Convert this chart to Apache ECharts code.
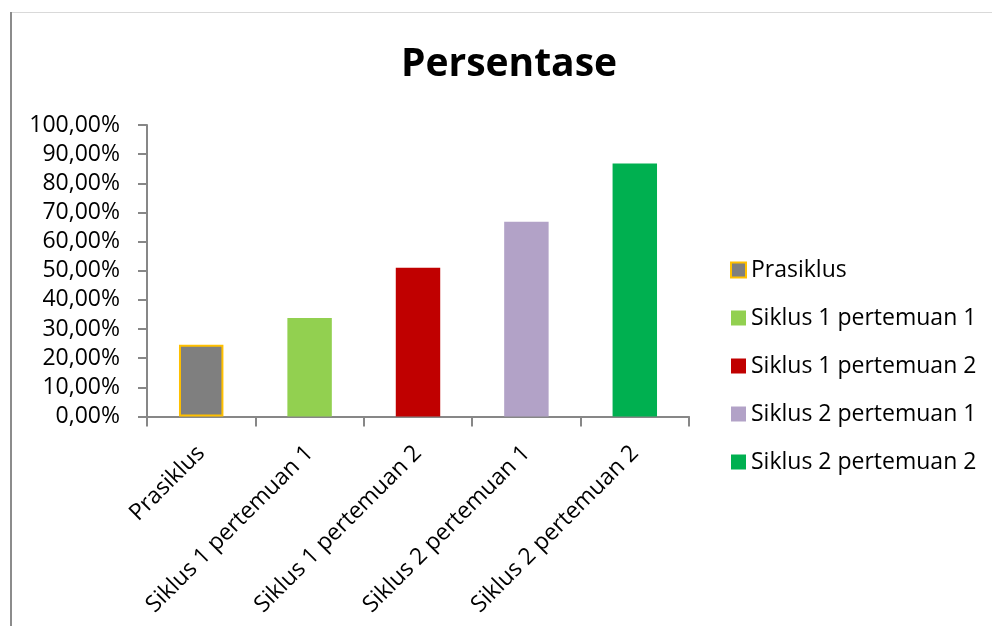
<!DOCTYPE html>
<html>
<head>
<meta charset="utf-8">
<title>Persentase</title>
<script src="https://cdn.jsdelivr.net/npm/echarts@6/dist/echarts.min.js"></script>
<style>
  html, body { margin: 0; padding: 0; background: #fff; }
  #chart { width: 992px; height: 626px; }
</style>
</head>
<body>
<div id="chart"></div>
<script>
// Categories and their percentages
const categories = [
  'Prasiklus',
  'Siklus 1 pertemuan 1',
  'Siklus 1 pertemuan 2',
  'Siklus 2 pertemuan 1',
  'Siklus 2 pertemuan 2'
];
const values = [24.6, 33.8, 51.0, 66.8, 86.8];
const yTicks = [0, 10, 20, 30, 40, 50, 60, 70, 80, 90, 100];

const fills = ['#7F7F7F', '#92D050', '#C00000', '#B2A2C7', '#00B050'];
const font = '"Open Sans", "Noto Sans", sans-serif';
const axisGray = '#878787';

function pct(v) {
  return v.toFixed(2).replace('.', ',') + '%';
}

// One series per category so each gets its own legend entry;
// barGap -100% stacks them onto the same slot.
const series = categories.map((name, i) => ({
  name: name,
  type: 'bar',
  barWidth: '41%',
  barGap: '-100%',
  data: categories.map((_, j) => (j === i ? values[i] : null)),
  itemStyle: i === 0
    ? { color: fills[i], borderColor: '#FFC000', borderWidth: 2 }
    : { color: fills[i] },
  emphasis: { disabled: true }
}));

const chart = echarts.init(document.getElementById('chart'), null, { renderer: 'canvas' });
chart.setOption({
  animation: false,
  backgroundColor: '#ffffff',
  title: {
    text: 'Persentase',
    left: 509,
    top: 45,
    padding: 0,
    textAlign: 'center',
    textStyle: { fontFamily: font, fontWeight: 'bold', fontSize: 39, color: '#000' }
  },
  legend: {
    orient: 'vertical',
    left: 730,
    top: 258,
    padding: 0,
    itemWidth: 15,
    itemHeight: 15,
    itemGap: 24,
    icon: 'rect',
    textStyle: { fontFamily: font, fontSize: 23, color: '#000', lineHeight: 24 },
    data: categories
  },
  grid: { left: 147, right: 303, top: 125, bottom: 209.5, containLabel: false },
  xAxis: {
    type: 'category',
    data: categories,
    boundaryGap: true,
    axisLine: { lineStyle: { color: axisGray, width: 2 } },
    axisTick: { show: true, length: 10, alignWithLabel: false, lineStyle: { color: axisGray, width: 2 } },
    axisLabel: {
      rotate: 45,
      margin: 33,
      interval: 0,
      fontFamily: font,
      fontSize: 23,
      color: '#000'
    },
    splitLine: { show: false }
  },
  yAxis: {
    type: 'value',
    min: yTicks[0],
    max: yTicks[yTicks.length - 1],
    interval: yTicks[1] - yTicks[0],
    axisLine: { show: true, lineStyle: { color: axisGray, width: 2 } },
    axisTick: { show: true, length: 9, lineStyle: { color: axisGray, width: 2 } },
    axisLabel: {
      margin: 27,
      fontFamily: font,
      fontSize: 23,
      color: '#000',
      formatter: pct
    },
    splitLine: { show: false }
  },
  series: series,
  graphic: [
    { type: 'line', shape: { x1: 11, y1: 12, x2: 11, y2: 626 }, style: { stroke: '#8C8C8C', lineWidth: 2 }, silent: true },
    { type: 'line', shape: { x1: 12, y1: 12.5, x2: 992, y2: 12.5 }, style: { stroke: '#D9D9D9', lineWidth: 1 }, silent: true }
  ]
});
</script>
</body>
</html>
